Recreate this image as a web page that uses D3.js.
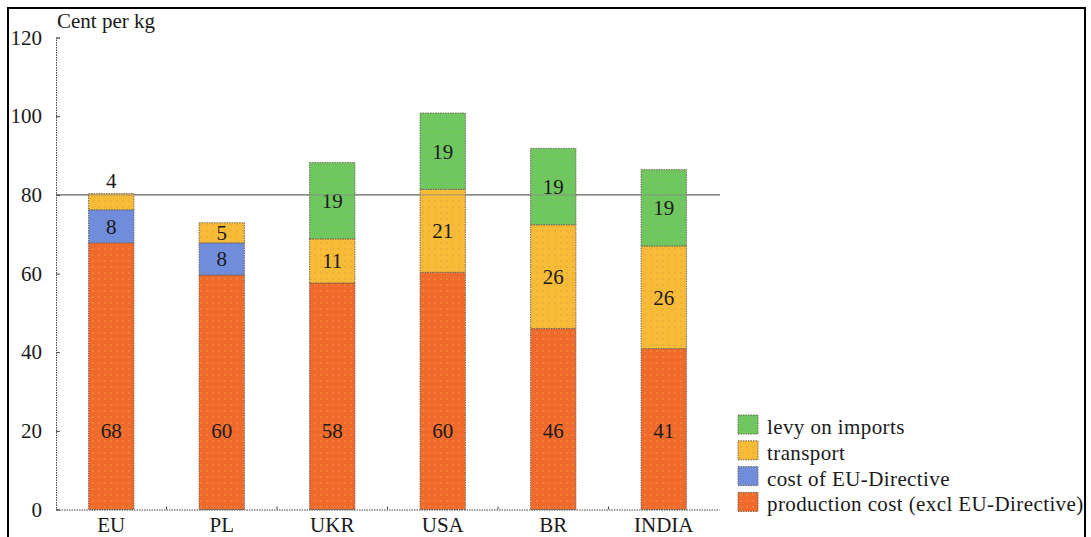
<!DOCTYPE html>
<html>
<head>
<meta charset="utf-8">
<script src="https://cdn.jsdelivr.net/npm/d3@7"></script>
<style>
html,body{margin:0;padding:0;background:#fff;overflow:hidden;}
svg{display:block;}
svg text{font-family:'Liberation Serif','DejaVu Serif','Noto Serif',Tinos,'Times New Roman',Times,serif !important;fill:#1a1a1a;}
</style>
</head>
<body>
<svg id="chart" width="1091" height="537"></svg>
<script>
const categories = ["EU","PL","UKR","USA","BR","INDIA"];
const production = [67.8, 59.6, 57.6, 60.3, 46.0, 40.9];
const directive  = [8.4, 8.2, 0, 0, 0, 0];
const transport  = [4.1, 5.1, 11.2, 21.1, 26.4, 26.1];
const levy       = [0, 0, 19.4, 19.4, 19.4, 19.4];
const yTicks = [0, 20, 40, 60, 80, 100, 120];
const seriesKeys = ["production","directive","transport","levy"];
const seriesNames = {
  levy: "levy on imports",
  transport: "transport",
  directive: "cost of EU-Directive",
  production: "production cost (excl EU-Directive)"
};
const colors = {production:"#EF6A2C", directive:"#6E8DDC", transport:"#F6BC38", levy:"#6FC85E"};
const dotColors = {production:"#F2B43A", directive:"#8E7FB8", transport:"#E98C3A", levy:"#8FA392"};
const refLine = 80;

const FONT = "'Liberation Serif','DejaVu Serif',serif";
const table = categories.map((c,i)=>({cat:c, production:production[i], directive:directive[i], transport:transport[i], levy:levy[i]}));

const svg = d3.select("#chart");
const defs = svg.append("defs");
seriesKeys.forEach(k=>{
  const p = defs.append("pattern").attr("id","pat-"+k).attr("patternUnits","userSpaceOnUse")
    .attr("width",6).attr("height",6);
  p.append("rect").attr("width",6).attr("height",6).attr("fill",colors[k]);
  p.append("circle").attr("cx",3).attr("cy",3).attr("r",0.7).attr("fill",dotColors[k]).attr("opacity",0.8);
});

// outer frame
svg.append("rect").attr("x",8).attr("y",8).attr("width",1077).attr("height",560)
  .attr("fill","none").attr("stroke","#000").attr("stroke-width",2);

const x = d3.scaleBand().domain(categories).range([56,719]).paddingInner(0.59).paddingOuter(0.295);
const y = d3.scaleLinear().domain([0,120]).range([509.5,37.5]);

const stack = d3.stack().keys(seriesKeys)(table);

// reference line at 80
svg.append("line").attr("x1",x.range()[0]).attr("x2",x.range()[1]+1)
  .attr("y1",y(refLine)).attr("y2",y(refLine))
  .attr("stroke","#8a8a8a").attr("stroke-width",1.5);

// bars
const g = svg.append("g");
stack.forEach(layer=>{
  const key = layer.key;
  g.selectAll(null).data(layer.filter(d=>d[1]-d[0]>0)).join("rect")
    .attr("x",d=>x(d.data.cat))
    .attr("width",x.bandwidth())
    .attr("y",d=>y(d[1]))
    .attr("height",d=>y(d[0])-y(d[1]))
    .attr("fill","url(#pat-"+key+")")
    .attr("stroke","#6a5a50").attr("stroke-width",0.9).attr("stroke-dasharray","1.5,1");
});

// reference line drawn faintly over the bars
svg.append("line").attr("x1",x.range()[0]).attr("x2",x.range()[1]+1)
  .attr("y1",y(refLine)).attr("y2",y(refLine))
  .attr("stroke","#8a8a8a").attr("stroke-width",1.2).attr("opacity",0.6);

// value labels
stack.forEach(layer=>{
  const key = layer.key;
  g.selectAll(null).data(layer.filter(d=>d[1]-d[0]>0)).join("text")
    .attr("x",d=>x(d.data.cat)+x.bandwidth()/2)
    .attr("y",d=>{
      const v = d[1]-d[0];
      if (key==="production") return y(20);
      if (v < 4.5) return y(d[1]) - 13;
      return y((d[0]+d[1])/2);
    })
    .attr("dy","0.35em")
    .attr("text-anchor","middle")
    .attr("font-size",21)
    .attr("font-family",FONT)
    .text(d=>Math.round(d[1]-d[0]));
});

// y axis
const yAxis = d3.axisLeft(y).tickValues(yTicks).tickSize(-4).tickPadding(14).tickFormat(d3.format("d"));
const ya = svg.append("g").attr("transform",`translate(${x.range()[0]},0)`).call(yAxis);
ya.attr("font-family",FONT).attr("font-size",21);
ya.select(".domain").attr("stroke","#444").attr("stroke-dasharray","1.5,1");
ya.selectAll(".tick line").attr("stroke","#444");
ya.selectAll(".tick text").attr("fill","#1a1a1a");

// x axis
const xAxis = d3.axisBottom(x).tickSize(0).tickPadding(8);
const xa = svg.append("g").attr("transform",`translate(0,${y(0)})`).call(xAxis);
xa.attr("font-family",FONT).attr("font-size",21);
xa.select(".domain").attr("stroke","#444").attr("stroke-dasharray","1.5,1");
xa.selectAll(".tick text").attr("fill","#1a1a1a");
// category boundary ticks
const bounds = categories.slice(0,-1).map(c=>x(c)+x.bandwidth()/2+x.step()/2);
xa.selectAll(null).data(bounds).join("line")
  .attr("x1",d=>d).attr("x2",d=>d).attr("y1",0).attr("y2",-3)
  .attr("stroke","#444");

// axis title
svg.append("text").attr("x",57).attr("y",28).attr("font-size",21).attr("font-family",FONT).text("Cent per kg");

// legend
const legendKeys = ["levy","transport","directive","production"];
const lg = svg.append("g");
legendKeys.forEach((k,i)=>{
  const by = 434 + i*25.8;
  lg.append("rect").attr("x",738).attr("y",by-19).attr("width",20).attr("height",19)
    .attr("fill","url(#pat-"+k+")").attr("stroke","#6a5a50").attr("stroke-width",0.9).attr("stroke-dasharray","1.5,1");
  lg.append("text").attr("x",767).attr("y",by).attr("font-size",21).attr("font-family",FONT)
    .attr("letter-spacing",0.4).text(seriesNames[k]);
});
</script>
</body>
</html>
